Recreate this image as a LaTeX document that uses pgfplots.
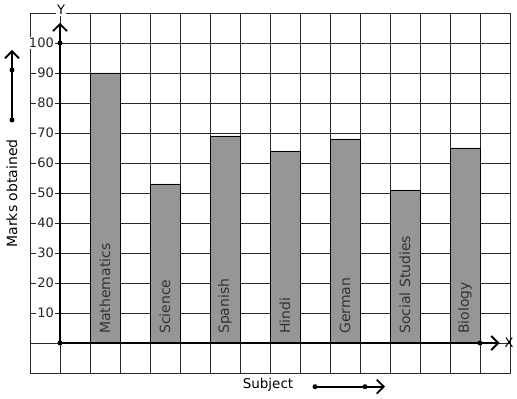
\documentclass[border=0pt]{standalone}
\usepackage{pgfplots}
\pgfplotsset{compat=1.18}
\usepackage{fontspec}
\setmainfont{DejaVu Sans}
\usetikzlibrary{arrows.meta}
\definecolor{barg}{RGB}{150,150,150}
\definecolor{gridc}{RGB}{40,40,40}
\begin{document}
\begin{tikzpicture}[x=1pt,y=1pt]
\useasboundingbox (0,0) rectangle (517,399);
\begin{axis}[
  at={(30pt,26pt)}, anchor=south west,
  scale only axis, width=480pt, height=360pt,
  xmin=-1, xmax=15, ymin=-10, ymax=110,
  xtick={-1,0,...,15}, xticklabels={},
  ytick={10,20,...,100}, minor ytick={-10,0,110},
  grid=both,
  major grid style={gridc, line width=0.9pt},
  minor grid style={gridc, line width=0.9pt},
  axis line style={gridc, line width=0.9pt},
  tick style={draw=none},
  /pgf/number format/assume math mode=true,
  yticklabel={\fontsize{13}{15}\selectfont\pgfmathprintnumber{\tick}},
  yticklabel style={anchor=east, xshift=25pt, inner xsep=1pt, inner ysep=1pt, fill=white, text=black!85},
]
\addplot[ybar, bar width=30pt, fill=barg, draw=black, line width=0.7pt]
  coordinates {(1.5,90) (3.5,53) (5.5,69) (7.5,64) (9.5,68) (11.5,51) (13.5,65)};
\foreach \xx/\name in {1.5/Mathematics,3.5/Science,5.5/Spanish,7.5/Hindi,9.5/German,11.5/Social Studies,13.5/Biology}{
  \edef\tmp{\noexpand\node[rotate=90, anchor=west, inner sep=0pt, font=\noexpand\fontsize{14}{16}\noexpand\selectfont, text=black!80] at (axis cs:\xx,3) {\name};}
  \tmp
}
\draw[line width=2.2pt, -{Straight Barb[length=7pt,width=14pt,line width=1.8pt]}] (axis cs:0,0) -- (axis cs:0,106.7);
\draw[line width=2pt, -{Straight Barb[length=7pt,width=14pt,line width=1.8pt]}] (axis cs:0,0) -- (axis cs:14.65,0);
\fill (axis cs:0,0) circle (2.5pt);
\fill (axis cs:0,100) circle (2.5pt);
\fill (axis cs:14,0) circle (2.5pt);
\end{axis}
\node[fill=white, inner sep=1pt, font=\fontsize{13}{15}\selectfont] at (61,389) {Y};
\node[font=\fontsize{13}{15}\selectfont, anchor=west, inner sep=0pt] at (504.5,56) {X};
\node[rotate=90, font=\fontsize{14}{16}\selectfont] at (12,205.5) {Marks obtained};
\node[font=\fontsize{13.5}{16}\selectfont] at (268,14) {Subject};
\draw[line width=2pt, -{Straight Barb[length=7pt,width=14pt,line width=1.8pt]}] (12,279) -- (12,349);
\fill (12,279) circle (2.5pt);
\fill (12,329) circle (2.5pt);
\draw[line width=2pt, -{Straight Barb[length=7pt,width=14pt,line width=1.8pt]}] (315,12.3) -- (385,12.3);
\fill (315,12.3) circle (2.5pt);
\fill (365,12.3) circle (2.5pt);
\end{tikzpicture}
\end{document}
